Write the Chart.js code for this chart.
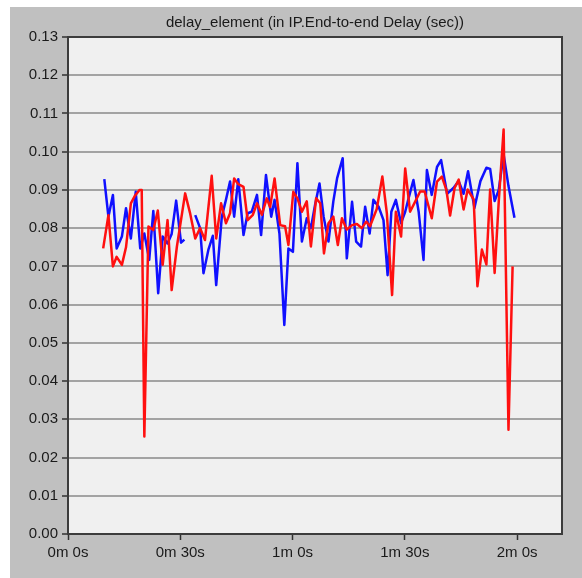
<!DOCTYPE html>
<html>
<head>
<meta charset="utf-8">
<script src="https://cdn.jsdelivr.net/npm/chart.js@4.4.1/dist/chart.umd.min.js"></script>
<style>
  body { margin: 0; background: #ffffff; }
  #panel { position: absolute; left: 10px; top: 7px; width: 572px; height: 571px; background: #c0c0c0; }
</style>
</head>
<body>
<div id="panel"><canvas id="chart" width="572" height="571"></canvas></div>
<script>
// Chart title and axis ticks
const chartTitle = 'delay_element (in IP.End-to-end Delay (sec))';
const xTickSeconds = [0, 30, 60, 90, 120];
const yTickValues = [0, 0.01, 0.02, 0.03, 0.04, 0.05, 0.06, 0.07, 0.08, 0.09, 0.10, 0.11, 0.12, 0.13];

// Red series (time in seconds, delay in seconds)
const redTimes = [9.4, 10.8, 12.0, 13.0, 14.4, 15.5, 16.8, 17.9, 19.1, 19.7, 20.4, 21.5, 22.8, 24.0, 25.3, 26.6, 27.7, 29.1,
  31.3, 32.6, 34.0, 35.3, 36.6, 38.4, 39.6, 40.9, 42.2, 43.3, 44.4, 45.5, 46.9, 48.0, 49.4, 50.5, 51.8, 53.1, 54.0, 55.2,
  56.7, 58.0, 58.9, 60.2, 61.3, 62.5, 63.8, 64.9, 66.3, 67.4, 68.4, 69.6, 70.9, 72.1, 73.2, 74.5, 75.9, 77.2, 78.5, 79.7,
  80.7, 82.5, 84.0, 85.2, 86.6, 87.6, 89.0, 90.1, 91.4, 92.8, 94.1, 95.3, 97.2, 98.6, 99.9, 101.1, 102.1, 103.3, 104.4,
  105.7, 106.8, 108.4, 109.4, 110.6, 111.8, 112.8, 114.0, 115.1, 116.4, 117.7, 118.8];
const redDelay = [0.0747, 0.0834, 0.0700, 0.0725, 0.0704, 0.0750, 0.0865, 0.0885, 0.0900, 0.0900, 0.0255, 0.0804, 0.0795,
  0.0846, 0.0704, 0.0821, 0.0638, 0.0752, 0.0891, 0.0840, 0.0773, 0.0800, 0.0769, 0.0937, 0.0773, 0.0865, 0.0813, 0.0839,
  0.0930, 0.0915, 0.0908, 0.0821, 0.0835, 0.0865, 0.0835, 0.0878, 0.0855, 0.0930, 0.0808, 0.0805, 0.0756, 0.0895, 0.0878,
  0.0843, 0.0870, 0.0752, 0.0878, 0.0865, 0.0734, 0.0813, 0.0830, 0.0756, 0.0826, 0.0796, 0.0808, 0.0811, 0.0800, 0.0817,
  0.0805, 0.0850, 0.0935, 0.0839, 0.0625, 0.0843, 0.0778, 0.0956, 0.0843, 0.0870, 0.0896, 0.0896, 0.0826, 0.0922, 0.0935,
  0.0900, 0.0833, 0.0905, 0.0927, 0.0849, 0.0901, 0.0875, 0.0648, 0.0744, 0.0705, 0.0901, 0.0683, 0.0870, 0.1058, 0.0273,
  0.0700];

// Blue series (null marks the gap near 0m 32s)
const blueTimes = [9.7, 10.8, 12.0, 13.0, 14.4, 15.5, 16.8, 18.1, 19.3, 20.4, 21.7, 22.8, 24.1, 25.3, 26.6, 27.7, 28.9, 30.2,
  31.1, 32.5, 34.0, 35.3, 36.2, 37.5, 38.7, 39.6, 41.1, 42.2, 43.3, 44.4, 45.5, 46.9, 48.0, 49.1, 50.5, 51.6, 52.9, 54.3,
  55.2, 56.5, 57.8, 58.9, 60.1, 61.3, 62.5, 63.8, 64.9, 66.0, 67.2, 68.3, 69.6, 70.9, 71.9, 73.4, 74.5, 75.9, 77.0, 78.3,
  79.4, 80.6, 81.6, 83.0, 84.3, 85.4, 86.4, 87.6, 89.0, 90.1, 91.0, 92.3, 93.7, 95.0, 95.9, 97.2, 98.6, 99.7, 101.3, 103.0,
  104.4, 105.7, 106.9, 108.6, 110.2, 111.8, 112.8, 114.0, 115.1, 116.4, 117.7, 119.3];
const blueDelay = [0.0928, 0.0830, 0.0887, 0.0747, 0.0778, 0.0852, 0.0773, 0.0895, 0.0747, 0.0786, 0.0717, 0.0845, 0.0630,
  0.0778, 0.0760, 0.0785, 0.0872, 0.0762, 0.0770, null, 0.0834, 0.0800, 0.0682, 0.0743, 0.0780, 0.0651, 0.0830, 0.0874,
  0.0922, 0.0830, 0.0928, 0.0782, 0.0839, 0.0843, 0.0887, 0.0782, 0.0939, 0.0830, 0.0874, 0.0786, 0.0547, 0.0747, 0.0738,
  0.0970, 0.0765, 0.0826, 0.0800, 0.0860, 0.0917, 0.0830, 0.0765, 0.0870, 0.0930, 0.0983, 0.0721, 0.0869, 0.0765, 0.0752,
  0.0856, 0.0786, 0.0874, 0.0856, 0.0821, 0.0677, 0.0843, 0.0874, 0.0813, 0.0843, 0.0878, 0.0926, 0.0843, 0.0717, 0.0952,
  0.0887, 0.0960, 0.0978, 0.0890, 0.0905, 0.0923, 0.0890, 0.0949, 0.0853, 0.0923, 0.0958, 0.0955, 0.0871, 0.0900, 0.0993,
  0.0910, 0.0827];

const FONT = '"Liberation Sans", Arial, sans-serif';

function formatTime(sec) {
  const m = Math.floor(sec / 60);
  const s = Math.round(sec - m * 60);
  return m + 'm ' + s + 's';
}

function toPoints(times, values) {
  return times.map((t, i) => ({ x: t, y: values[i] }));
}

// Plot background, frame and title
const framePlugin = {
  id: 'frame',
  beforeDraw(chart) {
    const { ctx, chartArea: a } = chart;
    ctx.save();
    ctx.fillStyle = '#f0f0f0';
    ctx.fillRect(a.left, a.top, a.right - a.left, a.bottom - a.top);
    ctx.restore();
  },
  afterDraw(chart) {
    const { ctx, chartArea: a } = chart;
    ctx.save();
    ctx.strokeStyle = '#3c3c3c';
    ctx.lineWidth = 2;
    ctx.strokeRect(a.left, a.top, a.right - a.left, a.bottom - a.top);
    ctx.fillStyle = '#1a1a1a';
    ctx.font = '15px ' + FONT;
    ctx.textAlign = 'center';
    ctx.textBaseline = 'middle';
    ctx.fillText(chartTitle, (a.left + a.right) / 2, 16);
    ctx.restore();
  }
};

new Chart(document.getElementById('chart'), {
  type: 'line',
  data: {
    datasets: [
      {
        label: 'red',
        data: toPoints(redTimes, redDelay),
        borderColor: '#ff1010',
        borderWidth: 2.5,
        pointRadius: 0,
        tension: 0,
        borderJoinStyle: 'round',
        fill: false
      },
      {
        label: 'blue',
        data: toPoints(blueTimes, blueDelay),
        borderColor: '#1010ff',
        borderWidth: 2.5,
        pointRadius: 0,
        tension: 0,
        borderJoinStyle: 'round',
        spanGaps: false,
        fill: false
      }
    ]
  },
  options: {
    responsive: false,
    animation: false,
    layout: { padding: { left: 0, top: 30, right: 20, bottom: 0 } },
    plugins: {
      legend: { display: false },
      tooltip: { enabled: false },
      title: { display: false }
    },
    scales: {
      x: {
        type: 'linear',
        min: 0,
        max: 132,
        afterBuildTicks: (scale) => { scale.ticks = xTickSeconds.map(v => ({ value: v })); },
        afterFit: (scale) => { scale.height = 44; },
        border: { display: false },
        grid: { drawOnChartArea: false, drawTicks: true, tickLength: 6, tickColor: '#303030', tickWidth: 1.5 },
        ticks: {
          color: '#1a1a1a',
          font: { family: FONT, size: 15 },
          padding: 4,
          maxRotation: 0,
          callback: (v) => formatTime(v)
        }
      },
      y: {
        min: 0,
        max: 0.13,
        afterBuildTicks: (scale) => { scale.ticks = yTickValues.map(v => ({ value: v })); },
        afterFit: (scale) => { scale.width = 58; },
        border: { display: false },
        grid: { color: '#a3a3a3', lineWidth: 2, drawTicks: true, tickLength: 6, tickColor: '#303030', tickWidth: 1.5 },
        ticks: {
          color: '#1a1a1a',
          font: { family: FONT, size: 15 },
          padding: 4,
          callback: (v) => v.toFixed(2)
        }
      }
    }
  },
  plugins: [framePlugin]
});
</script>
</body>
</html>
